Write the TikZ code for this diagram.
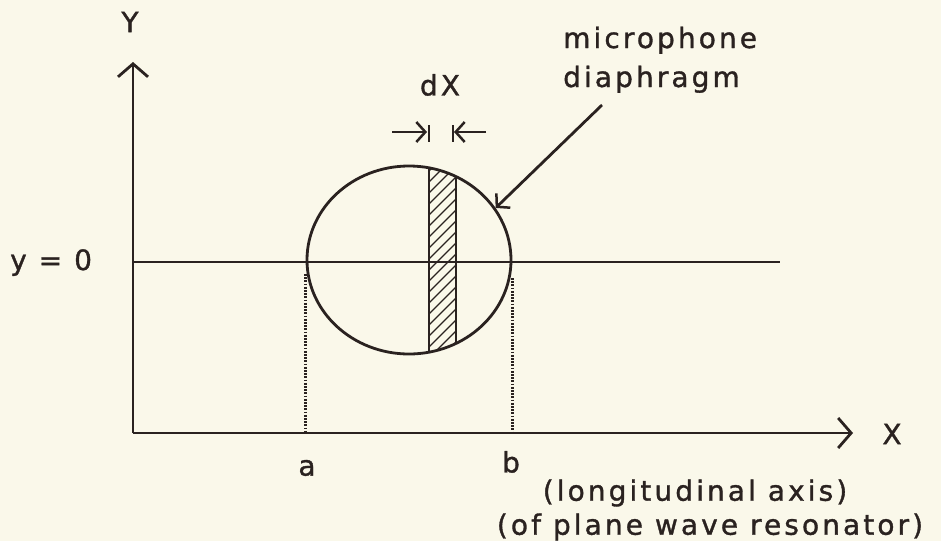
\documentclass[tikz,border=0pt]{standalone}
\usepackage{fontspec}
\setmainfont{DejaVu Sans}[LetterSpace=11,FakeBold=1.2]
\usetikzlibrary{arrows.meta,shapes.geometric}
\definecolor{ink}{RGB}{42,34,32}
\definecolor{paper}{RGB}{250,248,234}
\begin{document}
\begin{tikzpicture}[x=1pt,y=-1pt,
  inkline/.style={draw=ink, line width=2.8pt},
  axisarrow/.style={inkline, -{Straight Barb[length=13pt,width=30pt,line width=2.8pt]}},
  smallarrow/.style={inkline, -{Straight Barb[length=9pt,width=20pt,line width=2.5pt]}},
  dotline/.style={draw=ink, line width=2.5pt, dash pattern=on 1.8pt off 1.4pt},
  hatch/.style={draw=ink, line width=1.1pt},
  lbl/.style={text=ink, font=\fontsize{28}{32}\selectfont, inner sep=0pt}]
\fill[paper] (0,0) rectangle (941,541);
\useasboundingbox (0,0) rectangle (941,541);
% axes
\coordinate (O) at (133,433);
\coordinate (Ytip) at (133,62);
\coordinate (Xtip) at (853,433);
\draw[axisarrow] (O) -- (Ytip);
\draw[axisarrow] (O) -- (Xtip);
% y = 0 line
\coordinate (L0) at (133,262);
\coordinate (L1) at (780,262);
\draw[inkline] (L0) -- (L1);
% diaphragm
\node[ellipse, inkline, minimum width=204pt, minimum height=188pt, inner sep=0pt] (disk) at (409,260) {};
\begin{scope}
  \clip (409,260) ellipse [x radius=102pt, y radius=94pt];
  \clip (429,150) rectangle (456,370);
  \foreach \k in {160,171,...,400} \draw[hatch] (429,\k) -- (456,\k-27);
\end{scope}
\begin{scope}
  \clip (409,260) ellipse [x radius=102pt, y radius=94pt];
  \coordinate (s1t) at (429,150); \coordinate (s1b) at (429,370);
  \coordinate (s2t) at (456,150); \coordinate (s2b) at (456,370);
  \draw[inkline] (s1t) -- (s1b);
  \draw[inkline] (s2t) -- (s2b);
\end{scope}
% dotted drops
\draw[dotline] ([yshift=-14pt]disk.west) -- (disk.west |- O);
\draw[dotline] ([yshift=-18pt]disk.east) -- (disk.east |- O);
% dX marks
\coordinate (dxa) at (392,132); \coordinate (dxat) at (427,132);
\coordinate (dxb) at (486,132); \coordinate (dxbt) at (454,132);
\draw[smallarrow] (dxa) -- (dxat);
\draw[smallarrow] (dxb) -- (dxbt);
\coordinate (bar1t) at (429,125); \coordinate (bar1b) at (429,142);
\coordinate (bar2t) at (453,125); \coordinate (bar2b) at (453,142);
\draw[inkline] (bar1t) -- (bar1b);
\draw[inkline] (bar2t) -- (bar2b);
% labels
\node[lbl] (Ylab) at (130,22) {Y};
\node[lbl] (Xlab) at (892,434) {X};
\node[lbl, anchor=base west] (y0) at (10,270) {y = 0};
\node[lbl] (dxlab) at (440,85) {dX};
\node[lbl, anchor=base west] (mic1) at (563,48) {microphone};
\node[lbl, anchor=base west] (mic2) at (563,87) {diaphragm};
\node[lbl] (la) at (307,468) {a};
\node[lbl] (lb) at (511,462) {b};
\node[lbl] (ax1) at (695,493) {(longitudinal axis)};
\node[lbl] (ax2) at (710,527) {(of plane wave resonator)};
% pointer
\coordinate (ptr) at (602,105);
\draw[smallarrow] (ptr) -- (disk.31);
\end{tikzpicture}
\end{document}
